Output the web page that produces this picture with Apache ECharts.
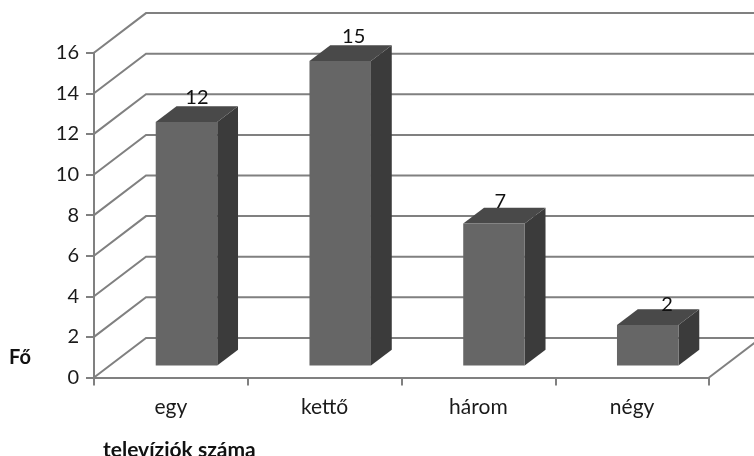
<!DOCTYPE html>
<html><head><meta charset="utf-8">
<style>html,body{margin:0;padding:0;background:#fff}#c{width:754px;height:456px}</style>
<script src="https://cdn.jsdelivr.net/npm/echarts@6/dist/echarts.min.js"></script>
</head><body><div id="c"></div>
<script>
var categories = ['egy', 'kettő', 'három', 'négy'];
var values = [12, 15, 7, 2];
var yTicks = [0, 2, 4, 6, 8, 10, 12, 14, 16];
var yTitle = 'Fő';
var xTitle = 'televíziók száma';

var DX = 52, DY = 39.6;        // floor depth in pixels
var FONT = 'Lato, "Open Sans", sans-serif';
var LINE = '#808080';
var LABEL_NUDGE = [[0, 0], [3, 0], [-4, 3], [9, 4]]; // hand placement of the value labels

function project(p, d) { return [p[0] + DX * d, p[1] - DY * d]; }

var chart = echarts.init(document.getElementById('c'), null, {renderer: 'canvas'});
chart.setOption({
  animation: false,
  backgroundColor: '#fff',
  grid: {left: 94, right: 45, top: 52.7, bottom: 78.5},
  xAxis: {
    type: 'category', data: categories,
    axisLine: {show: true, lineStyle: {color: LINE, width: 2}},
    axisTick: {show: true, length: 8, lineStyle: {color: LINE, width: 2}},
    axisLabel: {color: '#1a1a1a', fontFamily: FONT, fontSize: 21, margin: 19},
    splitLine: {show: false}
  },
  yAxis: {
    type: 'value', min: 0, max: 16, interval: 2,
    axisLine: {show: true, lineStyle: {color: LINE, width: 2}},
    axisTick: {show: true, length: 8, lineStyle: {color: LINE, width: 2}},
    axisLabel: {color: '#1a1a1a', fontFamily: FONT, fontSize: 20, margin: 15},
    splitLine: {show: false}
  },
  graphic: [
    {type: 'text', left: 9, top: 348, style: {text: yTitle, font: 'bold 20px ' + FONT, fill: '#111'}},
    {type: 'text', left: 103, top: 440, style: {text: xTitle, font: 'bold 21px ' + FONT, fill: '#111'}}
  ],
  series: [
    {
      type: 'custom', coordinateSystem: 'cartesian2d', z: 1, clip: false, silent: true,
      data: yTicks.map(function (v) { return [0, v]; }),
      encode: {x: 0, y: 1},
      renderItem: function (params, api) {
        var v = api.value(1);
        var band = api.size([1, 0])[0];
        var c0 = api.coord([0, v]);
        var start = [c0[0] - band / 2, c0[1]];
        var back = project(start, 1);
        var cEnd = api.coord([categories.length - 1, v]);
        var end = project([cEnd[0] + band / 2, cEnd[1]], 1);
        var style = {stroke: LINE, lineWidth: 2, fill: null};
        var children = [{type: 'polyline', shape: {points: [start, back, end]}, style: style}];
        if (v === 0) {
          var fr = [cEnd[0] + band / 2, cEnd[1]];
          children.push({type: 'polyline', shape: {points: [fr, end]}, style: style});
        }
        return {type: 'group', children: children};
      }
    },
    {
      type: 'custom', coordinateSystem: 'cartesian2d', z: 3, clip: false,
      data: values.map(function (v, i) { return [i, v]; }),
      encode: {x: 0, y: 1},
      renderItem: function (params, api) {
        var i = api.value(0), v = api.value(1);
        var band = api.size([1, 0])[0];
        var w = band * 0.4;
        var base = api.coord([i, 0]), top = api.coord([i, v]);
        var d0 = 0.3, d1 = 0.7;
        var fbl = project([base[0] - w / 2, base[1]], d0);
        var fbr = project([base[0] + w / 2, base[1]], d0);
        var ftl = project([top[0] - w / 2, top[1]], d0);
        var ftr = project([top[0] + w / 2, top[1]], d0);
        var bbr = project([base[0] + w / 2, base[1]], d1);
        var btr = project([top[0] + w / 2, top[1]], d1);
        var btl = project([top[0] - w / 2, top[1]], d1);
        var mid = project(top, 0.5);
        return {type: 'group', children: [
          {type: 'polygon', shape: {points: [fbr, bbr, btr, ftr]}, style: {fill: '#3b3b3b'}},
          {type: 'polygon', shape: {points: [ftl, ftr, btr, btl]}, style: {fill: '#494949'}},
          {type: 'polygon', shape: {points: [fbl, fbr, ftr, ftl]}, style: {fill: '#666666'}},
          {type: 'text', z2: 10, style: {x: mid[0] + LABEL_NUDGE[i][0], y: mid[1] - 17 + LABEL_NUDGE[i][1],
            text: String(v), align: 'center', verticalAlign: 'middle', font: '20px ' + FONT, fill: '#111'}}
        ]};
      }
    }
  ]
});
</script></body></html>
